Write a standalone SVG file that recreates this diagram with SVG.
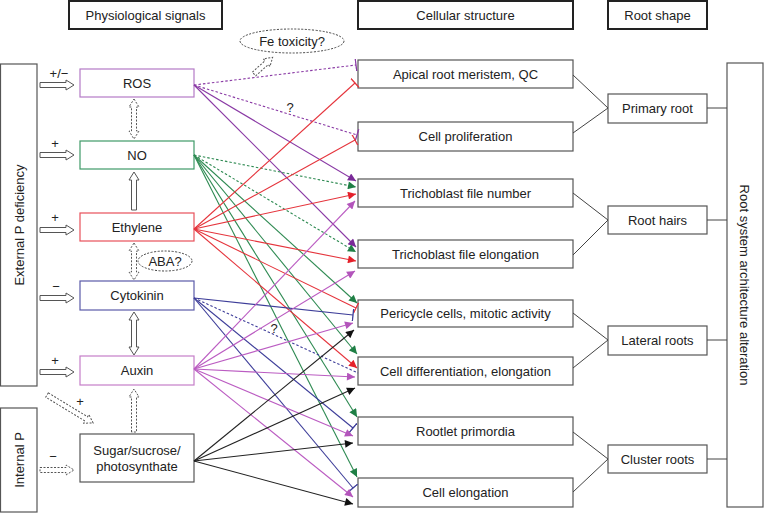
<svg xmlns="http://www.w3.org/2000/svg" width="764" height="514" viewBox="0 0 764 514">
<style>
text{font-family:"Liberation Sans",Arial,sans-serif;font-size:13px;fill:#222;text-anchor:middle}
.hdr{fill:#fff;stroke:#222;stroke-width:2}
.box{fill:#fff;stroke:#555;stroke-width:1.2}
.ha{fill:#fff;stroke:#555;stroke-width:1}
.hd{fill:#fff;stroke:#555;stroke-width:1;stroke-dasharray:2,1.5}
.e{fill:none;stroke-width:1.1}
.d{stroke-dasharray:2.5,2}
.ros{stroke:#8a3aa5}.no{stroke:#2e8a52}.eth{stroke:#e5343c}.cyt{stroke:#3d3d99}.aux{stroke:#bb5cc2}.sug{stroke:#222}
.lk{fill:none;stroke:#444;stroke-width:1}
</style>
<defs>
<marker id="aRos" viewBox="0 0 10 10" refX="10" refY="5" markerWidth="9" markerHeight="8" markerUnits="userSpaceOnUse" orient="auto"><path d="M0,0L10,5L0,10z" fill="#7a2a98"/></marker>
<marker id="aNo" viewBox="0 0 10 10" refX="10" refY="5" markerWidth="9" markerHeight="8" markerUnits="userSpaceOnUse" orient="auto"><path d="M0,0L10,5L0,10z" fill="#1f7f45"/></marker>
<marker id="aEth" viewBox="0 0 10 10" refX="10" refY="5" markerWidth="9" markerHeight="8" markerUnits="userSpaceOnUse" orient="auto"><path d="M0,0L10,5L0,10z" fill="#e5202a"/></marker>
<marker id="aAux" viewBox="0 0 10 10" refX="10" refY="5" markerWidth="9" markerHeight="8" markerUnits="userSpaceOnUse" orient="auto"><path d="M0,0L10,5L0,10z" fill="#b355bb"/></marker>
<marker id="aSug" viewBox="0 0 10 10" refX="10" refY="5" markerWidth="9" markerHeight="8" markerUnits="userSpaceOnUse" orient="auto"><path d="M0,0L10,5L0,10z" fill="#111"/></marker>
<marker id="tRos" viewBox="0 0 2 12" refX="1" refY="6" markerWidth="2" markerHeight="12" markerUnits="userSpaceOnUse" orient="auto"><path d="M1,0V12" stroke="#8a3aa5" stroke-width="1.3"/></marker>
<marker id="tEth" viewBox="0 0 2 12" refX="1" refY="6" markerWidth="2" markerHeight="12" markerUnits="userSpaceOnUse" orient="auto"><path d="M1,0V12" stroke="#e5343c" stroke-width="1.3"/></marker>
<marker id="tCyt" viewBox="0 0 2 12" refX="1" refY="6" markerWidth="2" markerHeight="12" markerUnits="userSpaceOnUse" orient="auto"><path d="M1,0V12" stroke="#3d3d99" stroke-width="1.3"/></marker>
</defs>
<rect width="764" height="514" fill="#fff"/>

<g id="headers">
<g id="h-phys"><rect class="hdr" x="69" y="1" width="153" height="28"/><text x="145.5" y="19.5">Physiological signals</text></g>
<g id="h-cell"><rect class="hdr" x="358" y="1" width="215" height="28"/><text x="465.5" y="19.5">Cellular structure</text></g>
<g id="h-root"><rect class="hdr" x="608" y="1" width="99" height="28"/><text x="657.5" y="19.5">Root shape</text></g>
</g>

<g id="ext-p"><rect class="box" x="0.5" y="64" width="36.5" height="322"/><text transform="translate(23.5,225) rotate(-90)">External P deficiency</text></g>
<g id="int-p"><rect class="box" x="0.5" y="408" width="36.5" height="104"/><text transform="translate(23.5,460) rotate(-90)">Internal P</text></g>

<g id="inputs">
<path class="ha" d="M40,82.5H66V80L74,85L66,90V87.5H40Z"/><text x="59" y="78">+/−</text>
<path class="ha" d="M40,152.5H66V150L74,155L66,160V157.5H40Z"/><text x="55" y="148">+</text>
<path class="ha" d="M40,227.5H66V225L74,230L66,235V232.5H40Z"/><text x="55" y="222">+</text>
<path class="ha" d="M40,295.5H66V293L74,298L66,303V300.5H40Z"/><text x="56" y="291">−</text>
<path class="ha" d="M40,369.5H66V367L74,372L66,377V374.5H40Z"/><text x="55" y="365">+</text>
<path class="hd" d="M40,467.5H66V465L74,470L66,475V472.5H40Z"/><text x="53" y="461">−</text>
<path class="hd" transform="translate(47,395) rotate(31.3)" d="M0,-2.5H46V-5L54,0L46,5V2.5H0Z"/><text x="80" y="406">+</text>
</g>

<g id="inter-signal">
<path class="hd" d="M134,99L139,107H136.5V131H139L134,139L129,131H131.5V107H129Z"/>
<path class="ha" d="M131.5,210V180H129L134,172L139,180H136.5V210Z"/>
<path class="hd" d="M134,243L139,251H136.5V272H139L134,280L129,272H131.5V251H129Z"/>
<path class="ha" d="M134,312L139,320H136.5V347H139L134,355L129,347H131.5V320H129Z"/>
<path class="hd" d="M131.5,432V397H129L134,389L139,397H136.5V432Z"/>
<path class="hd" transform="translate(254,74) rotate(-41.8)" d="M0,-2.5H17V-5L25,0L17,5V2.5H0Z"/>
</g>

<g id="fe"><ellipse cx="292" cy="41" rx="52" ry="12" fill="#fff" stroke="#444" stroke-width="1" stroke-dasharray="2,1.5"/><text x="292" y="45.5">Fe toxicity?</text></g>
<g id="aba"><ellipse cx="165" cy="261" rx="27" ry="10" fill="#fff" stroke="#444" stroke-width="1" stroke-dasharray="2,1.5"/><text x="165" y="265.5">ABA?</text></g>

<g id="ros"><rect class="box" x="80" y="69" width="114" height="28" stroke="#b47ac6" style="stroke:#b47ac6"/><text x="137" y="87.5">ROS</text></g>
<g id="no"><rect class="box" x="80" y="141" width="114" height="28" style="stroke:#3f9a68"/><text x="137" y="159.5">NO</text></g>
<g id="ethylene"><rect class="box" x="80" y="213" width="114" height="28" style="stroke:#e8505a"/><text x="137" y="231.5">Ethylene</text></g>
<g id="cytokinin"><rect class="box" x="80" y="281" width="114" height="29" style="stroke:#5a5aa8"/><text x="137" y="300">Cytokinin</text></g>
<g id="auxin"><rect class="box" x="80" y="356" width="114" height="29" style="stroke:#c57ec8"/><text x="137" y="375">Auxin</text></g>
<g id="sugar"><rect class="box" x="80" y="434" width="114" height="48"/><text x="137" y="454.5">Sugar/sucrose/</text><text x="137" y="470.5">photosynthate</text></g>

<g id="apical"><rect class="box" x="358" y="60" width="215" height="28"/><text x="465.5" y="78.5">Apical root meristem, QC</text></g>
<g id="prolif"><rect class="box" x="358" y="122" width="215" height="29"/><text x="465.5" y="141">Cell proliferation</text></g>
<g id="tfn"><rect class="box" x="358" y="179" width="215" height="28"/><text x="465.5" y="197.5">Trichoblast file number</text></g>
<g id="tfe"><rect class="box" x="358" y="240" width="215" height="28"/><text x="465.5" y="258.5">Trichoblast file elongation</text></g>
<g id="peri"><rect class="box" x="358" y="300" width="215" height="27"/><text x="465.5" y="318">Pericycle cells, mitotic activity</text></g>
<g id="diff"><rect class="box" x="358" y="357" width="215" height="28"/><text x="465.5" y="375.5">Cell differentiation, elongation</text></g>
<g id="rootlet"><rect class="box" x="358" y="417" width="215" height="28"/><text x="465.5" y="435.5">Rootlet primordia</text></g>
<g id="elong"><rect class="box" x="358" y="478" width="215" height="29"/><text x="465.5" y="497">Cell elongation</text></g>

<g id="primary"><rect class="box" x="608" y="94" width="99" height="29"/><text x="657.5" y="113">Primary root</text></g>
<g id="hairs"><rect class="box" x="608" y="206" width="99" height="28"/><text x="657.5" y="224.5">Root hairs</text></g>
<g id="lateral"><rect class="box" x="608" y="326" width="99" height="29"/><text x="657.5" y="345">Lateral roots</text></g>
<g id="cluster"><rect class="box" x="608" y="445" width="99" height="28"/><text x="657.5" y="463.5">Cluster roots</text></g>

<g id="rsa"><rect class="box" x="727" y="63" width="36" height="444"/><text transform="translate(740,285) rotate(90)">Root system architecture alteration</text></g>

<g id="connectors">
<path class="lk" d="M573,75L608,108L573,133M573,193L608,220L573,255M573,313L608,340L573,368M573,432L608,459L573,492M707,108H727M707,220H727M707,340H727M707,459H727"/>
<g class="ros">
<path class="e d ros" d="M194,85L356,65" marker-end="url(#tRos)"/>
<path class="e d ros" d="M194,85L357,135" marker-end="url(#tRos)"/>
<path class="e ros" d="M194,85L356,181" marker-end="url(#aRos)"/>
<path class="e ros" d="M194,85L356,247" marker-end="url(#aRos)"/>
</g>
<path class="e no d" d="M194,155L356,187" marker-end="url(#aNo)"/>
<path class="e no d" d="M194,155L356,252" marker-end="url(#aNo)"/>
<path class="e no" d="M194,155L357,303" marker-end="url(#aNo)"/>
<path class="e no" d="M194,155L357,354" marker-end="url(#aNo)"/>
<path class="e no" d="M194,155L357,417" marker-end="url(#aNo)"/>
<path class="e no" d="M194,155L357,477" marker-end="url(#aNo)"/>
<path class="e eth" d="M194,229L355,83" marker-end="url(#tEth)"/>
<path class="e eth" d="M194,229L355,140" marker-end="url(#tEth)"/>
<path class="e eth" d="M194,229L356,194" marker-end="url(#aEth)"/>
<path class="e eth" d="M194,229L356,261" marker-end="url(#aEth)"/>
<path class="e eth" d="M194,229L356,308" marker-end="url(#tEth)"/>
<path class="e eth" d="M194,229L357,368" marker-end="url(#aEth)"/>
<path class="e cyt" d="M194,298L353,315" marker-end="url(#tCyt)"/>
<path class="e cyt d" d="M194,298L358,373"/>
<path class="e cyt" d="M194,298L353,428" marker-end="url(#tCyt)"/>
<path class="e cyt" d="M194,298L353,488" marker-end="url(#tCyt)"/>
<path class="e aux" d="M194,369L355,201" marker-end="url(#aAux)"/>
<path class="e aux" d="M194,369L355,271" marker-end="url(#aAux)"/>
<path class="e aux" d="M194,369L353,323" marker-end="url(#aAux)"/>
<path class="e aux" d="M194,369L355,377" marker-end="url(#aAux)"/>
<path class="e aux" d="M194,369L353,436" marker-end="url(#aAux)"/>
<path class="e aux" d="M194,369L353,497" marker-end="url(#aAux)"/>
<path class="e sug" d="M194,461L354,330" marker-end="url(#aSug)"/>
<path class="e sug" d="M194,461L355,388" marker-end="url(#aSug)"/>
<path class="e sug" d="M194,461L353,443" marker-end="url(#aSug)"/>
<path class="e sug" d="M194,461L353,504" marker-end="url(#aSug)"/>
<text x="290" y="112">?</text>
<text x="274" y="333">?</text>
</g>
</svg>
